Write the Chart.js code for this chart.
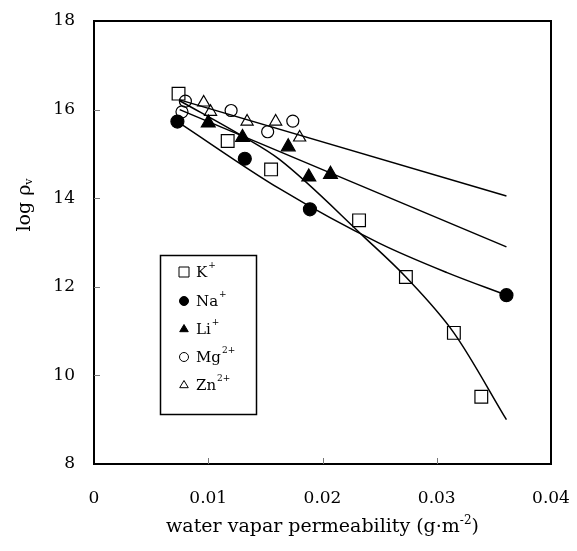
<!DOCTYPE html>
<html>
<head>
    <title>log rho vs water vapar permeability</title>
    <meta charset="UTF-8">
    <script src="https://cdn.jsdelivr.net/npm/chart.js@4.4.1/dist/chart.umd.min.js"></script>
    <style>
        body { margin: 0; background: #fff; }
    </style>
</head>
<body>

<canvas id="rhoChart" width="577" height="551"></canvas>

<script>
    // measured points (x: g/m2, y: log rho_v)
    var kX  = [0.0074, 0.0117, 0.0155, 0.0232, 0.0273, 0.0315, 0.0339];
    var kY  = [16.36, 15.29, 14.65, 13.50, 12.22, 10.96, 9.52];
    var naX = [0.0073, 0.0132, 0.0189, 0.0361];
    var naY = [15.73, 14.89, 13.75, 11.81];
    var liX = [0.0100, 0.0130, 0.0170, 0.0188, 0.0207];
    var liY = [15.70, 15.37, 15.16, 14.48, 14.54];
    var mgX = [0.0080, 0.0077, 0.0120, 0.0152, 0.0174];
    var mgY = [16.19, 15.95, 15.98, 15.50, 15.74];
    var znX = [0.0096, 0.0102, 0.0134, 0.0159, 0.0180];
    var znY = [16.16, 15.95, 15.73, 15.73, 15.37];

    // fitted curves
    var fitKX  = [0.0075, 0.0130, 0.0162, 0.0237, 0.0273, 0.0315, 0.0361];
    var fitKY  = [16.20, 15.40, 14.88, 13.11, 12.22, 10.96, 9.00];
    var fitNaX = [0.0073, 0.0162, 0.0250, 0.0309, 0.0361];
    var fitNaY = [15.73, 14.22, 12.98, 12.32, 11.81];
    var fitLiX = [0.0075, 0.0361];
    var fitLiY = [16.00, 12.90];
    var fitMgX = [0.0075, 0.0361];
    var fitMgY = [16.22, 14.05];

    var ions    = ['K', 'Na', 'Li', 'Mg', 'Zn'];
    var charges = ['+', '+', '+', '2+', '2+'];

    var xTicks = [0, 0.01, 0.02, 0.03, 0.04];
    var yTicks = [8, 10, 12, 14, 16, 18];

    var serif = '"DejaVu Serif", "Liberation Serif", serif';

    function pts(xs, ys) {
        var out = [];
        for (var i = 0; i < xs.length; i++) out.push({ x: xs[i], y: ys[i] });
        return out;
    }

    function markers(i, xs, ys, style, radius, filled) {
        return {
            label: ions[i], data: pts(xs, ys), showLine: false, order: 0,
            pointStyle: style, pointRadius: radius, pointHoverRadius: radius,
            pointBorderWidth: 1.2, pointBorderColor: '#000',
            pointBackgroundColor: filled ? '#000' : 'rgba(0,0,0,0)'
        };
    }

    function fit(xs, ys, curved) {
        return {
            label: 'fit', data: pts(xs, ys), showLine: true, order: 1,
            borderColor: '#000', borderWidth: 1.5, pointRadius: 0, fill: false,
            cubicInterpolationMode: curved ? 'monotone' : 'default', tension: 0
        };
    }

    function drawSymbol(ctx, ds, x, y) {
        var r = ds.pointStyle === 'rect' ? 5 : 4.5;
        ctx.save();
        ctx.lineWidth = 1;
        ctx.strokeStyle = '#000';
        ctx.fillStyle = ds.pointBackgroundColor;
        ctx.beginPath();
        if (ds.pointStyle === 'rect') {
            ctx.rect(x - r, y - r, 2 * r, 2 * r);
        } else if (ds.pointStyle === 'triangle') {
            ctx.moveTo(x, y - r);
            ctx.lineTo(x + r * 0.866 * 1.1, y + r * 0.6);
            ctx.lineTo(x - r * 0.866 * 1.1, y + r * 0.6);
            ctx.closePath();
        } else {
            ctx.arc(x, y, r, 0, Math.PI * 2);
        }
        ctx.fill();
        ctx.stroke();
        ctx.restore();
    }

    // frame, inner ticks, axis titles and the boxed legend
    var decorations = {
        id: 'decorations',
        afterDraw: function (chart) {
            var ctx = chart.ctx, a = chart.chartArea;
            var xs = chart.scales.x, ys = chart.scales.y;
            ctx.save();
            ctx.strokeStyle = '#000';
            ctx.lineWidth = 2;
            ctx.strokeRect(a.left, a.top, a.right - a.left, a.bottom - a.top);

            ctx.lineWidth = 1;
            ctx.strokeStyle = '#777';
            ctx.beginPath();
            xTicks.slice(1, -1).forEach(function (v) {
                var px = Math.round(xs.getPixelForValue(v)) + 0.5;
                ctx.moveTo(px, a.bottom); ctx.lineTo(px, a.bottom - 6);
            });
            yTicks.slice(1, -1).forEach(function (v) {
                var py = Math.round(ys.getPixelForValue(v)) + 0.5;
                ctx.moveTo(a.left, py); ctx.lineTo(a.left + 6, py);
            });
            ctx.stroke();

            // x title with superscript
            ctx.fillStyle = '#000';
            ctx.textBaseline = 'alphabetic';
            var base = 'water vapar permeability (g\u00b7m';
            var sup = '-2';
            var tail = ')';
            ctx.font = '19px ' + serif;
            var w1 = ctx.measureText(base).width, w3 = ctx.measureText(tail).width;
            ctx.font = '12px ' + serif;
            var w2 = ctx.measureText(sup).width;
            var x0 = (a.left + a.right) / 2 - (w1 + w2 + w3) / 2;
            var by = 532;
            ctx.textAlign = 'left';
            ctx.font = '19px ' + serif;
            ctx.fillText(base, x0, by);
            ctx.fillText(tail, x0 + w1 + w2, by);
            ctx.font = '12px ' + serif;
            ctx.fillText(sup, x0 + w1, by - 8);

            // y title with subscript, rotated
            ctx.save();
            ctx.translate(30, 205);
            ctx.rotate(-Math.PI / 2);
            ctx.font = '19px ' + serif;
            var t1 = 'log \u03c1';
            var tw1 = ctx.measureText(t1).width;
            ctx.font = '11px ' + serif;
            var tw2 = ctx.measureText('v').width;
            var sx = -(tw1 + tw2) / 2;
            ctx.font = '19px ' + serif;
            ctx.fillText(t1, sx, 0);
            ctx.font = '11px ' + serif;
            ctx.fillText('v', sx + tw1, 2);
            ctx.restore();

            // legend box
            ctx.lineWidth = 1.5;
            ctx.strokeStyle = '#000';
            ctx.strokeRect(160.5, 255.5, 96, 159);
            var rowY = [272, 301, 329, 357, 385];
            for (var i = 0; i < ions.length; i++) {
                var ds = chart.data.datasets[i];
                drawSymbol(ctx, ds, 184, rowY[i]);
                ctx.fillStyle = '#000';
                ctx.font = '15px ' + serif;
                ctx.textBaseline = 'middle';
                ctx.fillText(ions[i], 196, rowY[i] + 1);
                var iw = ctx.measureText(ions[i]).width;
                ctx.font = '9px ' + serif;
                ctx.fillText(charges[i], 196 + iw + 1, rowY[i] - 6);
            }
            ctx.restore();
        }
    };

    new Chart(document.getElementById('rhoChart'), {
        type: 'scatter',
        data: {
            datasets: [
                markers(0, kX, kY, 'rect', 9, false),
                markers(1, naX, naY, 'circle', 6.5, true),
                markers(2, liX, liY, 'triangle', 8, true),
                markers(3, mgX, mgY, 'circle', 6, false),
                markers(4, znX, znY, 'triangle', 7, false),
                fit(fitKX, fitKY, true),
                fit(fitNaX, fitNaY, true),
                fit(fitLiX, fitLiY, false),
                fit(fitMgX, fitMgY, false)
            ]
        },
        options: {
            responsive: false,
            animation: false,
            layout: { padding: { top: 21, right: 26, left: 0, bottom: 0 } },
            plugins: { legend: { display: false }, tooltip: { enabled: false } },
            scales: {
                x: {
                    type: 'linear', min: 0, max: 0.04,
                    afterFit: function (s) {
                        s.height = 87;
                        s.paddingLeft = 0; s.paddingRight = 0;
                    },
                    afterBuildTicks: function (s) { s.ticks = xTicks.map(function (v) { return { value: v }; }); },
                    grid: { display: false, drawTicks: false },
                    border: { display: false },
                    ticks: {
                        padding: 24, color: '#000', font: { family: serif, size: 17 },
                        callback: function (v) { return v === 0 ? '0' : v.toFixed(2); }
                    }
                },
                y: {
                    min: 8, max: 18,
                    afterFit: function (s) {
                        s.width = 94;
                        s.paddingTop = 0; s.paddingBottom = 0;
                    },
                    afterBuildTicks: function (s) { s.ticks = yTicks.map(function (v) { return { value: v }; }); },
                    grid: { display: false, drawTicks: false },
                    border: { display: false },
                    ticks: { padding: 19, color: '#000', font: { family: serif, size: 17 } }
                }
            }
        },
        plugins: [decorations]
    });
</script>

</body>
</html>
